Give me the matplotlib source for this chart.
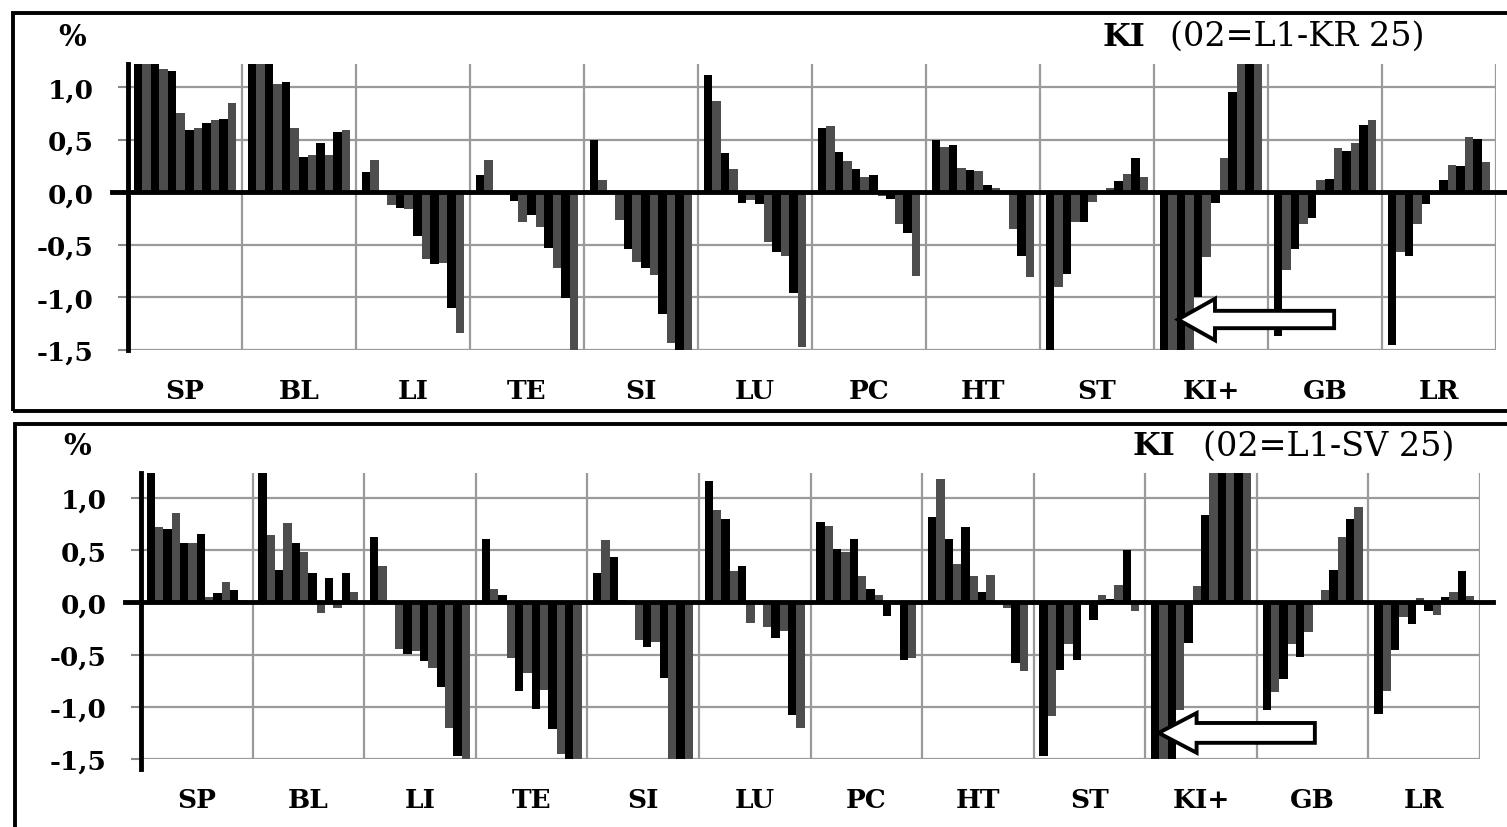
import numpy as np
import matplotlib.pyplot as plt
from matplotlib.patches import Rectangle, FancyArrow
from matplotlib.ticker import FuncFormatter

W, H = 1507, 828

groups = ["SP", "BL", "LI", "TE", "SI", "LU", "PC", "HT", "ST", "KI+", "GB", "LR"]
yticks = [-1.5, -1.0, -0.5, 0.0, 0.5, 1.0]

# KI (02=L1-KR 25) - 12 bars per group (clipped bars have guessed values)
kr_sp = [1.30, 1.30, 1.30, 1.17, 1.15, 0.75, 0.59, 0.61, 0.66, 0.69, 0.70, 0.85]
kr_bl = [1.30, 1.30, 1.30, 1.03, 1.05, 0.61, 0.34, 0.35, 0.47, 0.35, 0.57, 0.59]
kr_li = [0.19, 0.31, -0.01, -0.12, -0.15, -0.16, -0.42, -0.63, -0.68, -0.67, -1.10, -1.34]
kr_te = [0.16, 0.31, 0.01, -0.01, -0.08, -0.28, -0.22, -0.33, -0.53, -0.72, -1.01, -1.60]
kr_si = [0.50, 0.12, 0.00, -0.26, -0.54, -0.66, -0.72, -0.79, -1.16, -1.43, -1.60, -1.60]
kr_lu = [1.12, 0.87, 0.37, 0.22, -0.10, -0.07, -0.11, -0.47, -0.57, -0.61, -0.96, -1.47]
kr_pc = [0.61, 0.63, 0.38, 0.30, 0.22, 0.15, 0.16, -0.04, -0.06, -0.30, -0.39, -0.80]
kr_ht = [0.50, 0.43, 0.45, 0.23, 0.21, 0.20, 0.07, 0.04, 0.01, -0.35, -0.61, -0.81]
kr_st = [-1.60, -0.90, -0.78, -0.28, -0.28, -0.09, 0.01, 0.04, 0.11, 0.17, 0.33, 0.15]
kr_ki = [-1.60, -1.60, -1.60, -1.60, -1.00, -0.62, -0.10, 0.33, 0.95, 1.30, 1.30, 1.30]
kr_gb = [-1.37, -0.74, -0.54, -0.30, -0.24, 0.12, 0.13, 0.42, 0.39, 0.47, 0.64, 0.69]
kr_lr = [-1.45, -0.57, -0.61, -0.30, -0.11, -0.02, 0.12, 0.26, 0.25, 0.53, 0.51, 0.29]

# KI (02=L1-SV 25)
sv_sp = [1.30, 0.72, 0.70, 0.86, 0.57, 0.57, 0.66, 0.05, 0.09, 0.20, 0.12, 0.02]
sv_bl = [1.30, 0.65, 0.31, 0.76, 0.57, 0.48, 0.28, -0.10, 0.23, -0.05, 0.28, 0.10]
sv_li = [0.63, 0.35, 0.00, -0.45, -0.49, -0.47, -0.56, -0.63, -0.81, -1.20, -1.47, -1.50]
sv_te = [0.61, 0.13, 0.07, -0.53, -0.85, -0.68, -1.02, -0.84, -1.21, -1.45, -1.50, -1.50]
sv_si = [0.28, 0.60, 0.44, 0.02, 0.01, -0.36, -0.43, -0.38, -0.72, -1.60, -1.60, -1.60]
sv_lu = [1.16, 0.89, 0.80, 0.30, 0.35, -0.20, 0.00, -0.24, -0.34, -0.27, -1.08, -1.20]
sv_pc = [0.77, 0.73, 0.51, 0.48, 0.61, 0.25, 0.13, 0.07, -0.13, 0.00, -0.55, -0.53]
sv_ht = [0.82, 1.18, 0.61, 0.37, 0.72, 0.25, 0.10, 0.26, 0.00, -0.05, -0.58, -0.66]
sv_st = [-1.47, -1.09, -0.65, -0.40, -0.55, 0.00, -0.17, 0.07, 0.03, 0.17, 0.50, -0.08]
sv_ki = [-1.60, -1.60, -1.60, -1.03, -0.39, 0.16, 0.84, 1.30, 1.30, 1.30, 1.30, 1.30]
sv_gb = [-1.03, -0.86, -0.73, -0.40, -0.52, -0.28, 0.00, 0.12, 0.31, 0.63, 0.80, 0.91]
sv_lr = [-1.07, -0.85, -0.46, -0.14, -0.21, 0.04, -0.08, -0.12, 0.05, 0.10, 0.30, 0.06]

kr_values = [kr_sp, kr_bl, kr_li, kr_te, kr_si, kr_lu, kr_pc, kr_ht, kr_st, kr_ki, kr_gb, kr_lr]
sv_values = [sv_sp, sv_bl, sv_li, sv_te, sv_si, sv_lu, sv_pc, sv_ht, sv_st, sv_ki, sv_gb, sv_lr]

bar_colors = ["#000000", "#4d4d4d"] * 6
serif = ["DejaVu Serif"]


def px(x, y):
    # pixel position (from top left) -> figure fraction
    return x / W, 1 - y / H


def draw_panel(ax, values, ytop, arrow):
    n = len(values[0])
    w = 1.0 / (n + 1.4)
    for g, vals in enumerate(values):
        xs = g + 0.7 * w + (np.arange(n) + 0.5) * w
        ax.bar(xs, vals, width=w, color=bar_colors, linewidth=0, zorder=2)

    ax.set_xlim(0, len(values))
    ax.set_ylim(-1.5, ytop)
    ax.set_axisbelow(True)
    ax.yaxis.grid(True, color="#9a9a9a", lw=1.6, zorder=0)
    ax.vlines(np.arange(1, len(values) + 1), -1.5, ytop, color="#9a9a9a", lw=1.6, zorder=0)

    for s in ["top", "right", "bottom"]:
        ax.spines[s].set_visible(False)
    ax.spines["left"].set_linewidth(3.5)
    ax.spines["left"].set_zorder(4)

    # thick zero line, running slightly past the axes
    ax.plot([-0.012, 1.01], [0, 0], color="black", lw=3.5,
            transform=ax.get_yaxis_transform(), clip_on=False, zorder=5)

    ax.set_yticks(yticks)
    ax.yaxis.set_major_formatter(FuncFormatter(lambda v, p: f"{v:.1f}".replace(".", ",")))
    ax.tick_params(axis="y", direction="out", length=7, width=1.5, color="#888888", pad=18)
    ax.set_xticks(np.arange(len(values)) + 0.5)
    ax.set_xticklabels(groups)
    ax.tick_params(axis="x", length=0, pad=20)
    for lab in ax.get_yticklabels():
        lab.set_family(serif)
        lab.set_fontweight("bold")
        lab.set_fontsize(19)
    for lab in ax.get_xticklabels():
        lab.set_family(serif)
        lab.set_fontweight("bold")
        lab.set_fontsize(19)

    tip, tail, yc, body, head, hlen = arrow
    ax.add_patch(FancyArrow(tail, yc, tip - tail, 0, width=body, head_width=head,
                            head_length=hlen, length_includes_head=True,
                            fc="white", ec="black", lw=2.8, zorder=6))


fig = plt.figure(figsize=(W / 100, H / 100), dpi=100)

# panel frames
for x0, y0, y1 in [(13, 14, 412), (15, 425, 840)]:
    fig.add_artist(Rectangle(px(x0, y1), (W + 10 - x0) / W, (y1 - y0) / H,
                             transform=fig.transFigure, fill=False, ec="black", lw=2.8))

ax1 = fig.add_axes([128 / W, 1 - 351 / H, (1496 - 128) / W, (351 - 65) / H])
draw_panel(ax1, kr_values, 1.22, (9.21, 10.58, -1.21, 0.165, 0.395, 0.325))

ax2 = fig.add_axes([141 / W, 1 - 760 / H, (1480 - 141) / W, (760 - 474) / H])
draw_panel(ax2, sv_values, 1.24, (9.12, 10.52, -1.25, 0.19, 0.38, 0.34))
ax2.spines["left"].set_bounds(-1.6, 1.24)

# percent signs and panel titles
for (x, y) in [(72, 37), (77, 447)]:
    fig.text(*px(x, y), "%", family=serif, fontweight="bold", fontsize=21, ha="center", va="center")

fig.text(*px(1103, 37), "KI", family=serif, fontweight="bold", fontsize=23, ha="left", va="center")
fig.text(*px(1170, 37), "(02=L1-KR 25)", family=serif, fontsize=24, ha="left", va="center")
fig.text(*px(1133, 447), "KI", family=serif, fontweight="bold", fontsize=23, ha="left", va="center")
fig.text(*px(1203, 447), "(02=L1-SV 25)", family=serif, fontsize=24, ha="left", va="center")

fig.savefig("out.png", dpi=100)
